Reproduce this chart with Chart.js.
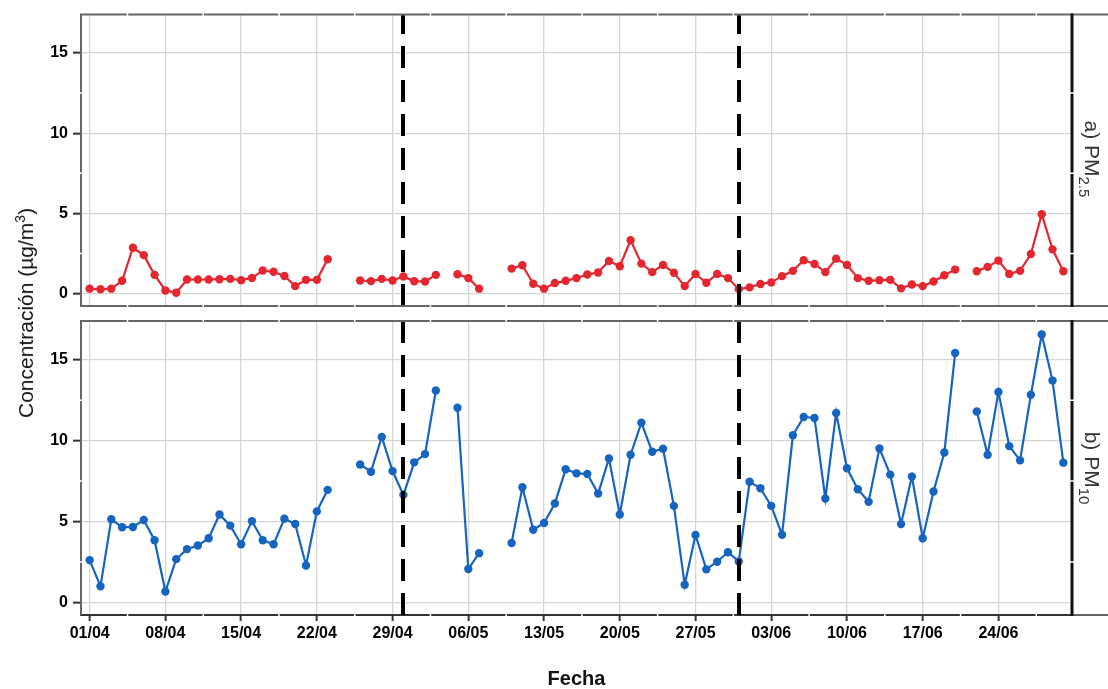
<!DOCTYPE html>
<html>
<head>
<meta charset="utf-8">
<script src="https://cdn.jsdelivr.net/npm/chart.js@4.4.1/dist/chart.umd.min.js"></script>
<style>
  html, body { margin: 0; padding: 0; background: #fff; }
  #wrap { position: relative; width: 1108px; height: 689px; font-family: "Liberation Sans", Arial, sans-serif; }
  #wrap canvas { position: absolute; left: 0; top: 0; }
  .ytitle { position: absolute; left: 25px; top: 313px; transform: translate(-50%, -50%) rotate(-90deg); font-size: 21px; color: #111; white-space: nowrap; z-index: 2; }
  .ytitle sup { font-size: 14px; }
  .strip { position: absolute; left: 1090px; transform: translate(-50%, -50%) rotate(90deg); font-size: 21px; color: #333; white-space: nowrap; z-index: 2; }
  .strip sub { font-size: 15px; }
</style>
</head>
<body>
<div id="wrap">
  <canvas id="pm25" width="1108" height="689"></canvas>
  <canvas id="pm10" width="1108" height="689"></canvas>
  <div class="ytitle">Concentración (µg/m<sup>3</sup>)</div>
  <div class="strip" style="top:159px">a) PM<sub>2.5</sub></div>
  <div class="strip" style="top:468px">b) PM<sub>10</sub></div>
</div>
<script>
// daily series, index 0 = 01/04, index 90 = 30/06 (null = no measurement)
const pm25 = [
  0.31, 0.27, 0.31, 0.80, 2.86, 2.40, 1.17, 0.20, 0.06, 0.88,
  0.88, 0.88, 0.90, 0.92, 0.84, 0.98, 1.44, 1.36, 1.10, 0.47,
  0.86, 0.86, 2.14, null, null, 0.82, 0.78, 0.92, 0.82, 1.07,
  0.77, 0.76, 1.17, null, 1.21, 0.97, 0.31, null, null, 1.56,
  1.77, 0.62, 0.31, 0.66, 0.80, 0.97, 1.19, 1.32, 2.04, 1.71,
  3.33, 1.87, 1.34, 1.79, 1.30, 0.47, 1.23, 0.68, 1.23, 0.97,
  0.28, 0.39, 0.60, 0.70, 1.09, 1.42, 2.08, 1.85, 1.34, 2.18,
  1.79, 0.97, 0.80, 0.84, 0.86, 0.33, 0.57, 0.47, 0.76, 1.15,
  1.50, null, 1.40, 1.67, 2.06, 1.23, 1.42, 2.47, 4.95, 2.76,
  1.40
];
const pm10 = [
  2.62, 1.00, 5.14, 4.65, 4.67, 5.10, 3.85, 0.68, 2.68, 3.30,
  3.52, 3.97, 5.44, 4.75, 3.60, 5.03, 3.85, 3.60, 5.18, 4.85,
  2.29, 5.63, 6.96, null, null, 8.53, 8.08, 10.23, 8.12, 6.65,
  8.66, 9.17, 13.10, null, 12.03, 2.07, 3.05, null, null, 3.68,
  7.12, 4.50, 4.91, 6.12, 8.23, 7.98, 7.94, 6.73, 8.90, 5.44,
  9.13, 11.11, 9.31, 9.50, 5.97, 1.10, 4.17, 2.05, 2.52, 3.11,
  2.54, 7.46, 7.06, 5.97, 4.19, 10.33, 11.46, 11.40, 6.43, 11.71,
  8.29, 7.00, 6.22, 9.52, 7.90, 4.85, 7.78, 3.97, 6.86, 9.27,
  15.41, null, 11.80, 9.13, 13.01, 9.66, 8.78, 12.83, 16.56, 13.71,
  8.64
];
const tickDays = [0, 7, 14, 21, 28, 35, 42, 49, 56, 63, 70, 77, 84];
const tickLabels = ["01/04", "08/04", "15/04", "22/04", "29/04", "06/05", "13/05",
                    "20/05", "27/05", "03/06", "10/06", "17/06", "24/06"];
const yTicks = [0, 5, 10, 15];
const eventDays = [29, 60];
const xMinor = [3.5, 10.5, 17.5, 24.5, 31.5, 38.5, 45.5, 52.5, 59.5, 66.5, 73.5, 80.5, 87.5];
const yMinor = [2.5, 7.5, 12.5];

const xMin = -0.8, xMax = 90.8;
const yMin = -0.77, yMax = 17.39;

Chart.defaults.font.family = '"Liberation Sans", Arial, sans-serif';

// panel border, strip box edges, white minor breaks and the dashed event lines
const panelFrame = {
  id: 'panelFrame',
  afterDatasetsDraw(chart) {
    const { ctx, chartArea: a, scales: { x } } = chart;
    ctx.save();
    ctx.setLineDash([22, 12]);
    ctx.lineWidth = 4;
    ctx.strokeStyle = '#000';
    eventDays.forEach(d => {
      const px = Math.round(x.getPixelForValue(d));
      ctx.beginPath();
      ctx.moveTo(px, a.bottom);
      ctx.lineTo(px, a.top);
      ctx.stroke();
    });
    ctx.restore();
  },
  afterDraw(chart, args, opts) {
    const { ctx, chartArea: a, scales: { x, y } } = chart;
    const edge = chart.width;
    ctx.save();
    ctx.lineWidth = 2;
    ctx.strokeStyle = '#666';
    ctx.beginPath();
    ctx.moveTo(a.left - 1, a.top);
    ctx.lineTo(edge, a.top);
    ctx.moveTo(opts.withAxis ? a.right : a.left - 1, a.bottom);
    ctx.lineTo(edge, a.bottom);
    ctx.stroke();

    ctx.lineWidth = 3;
    ctx.strokeStyle = '#111';
    ctx.beginPath();
    ctx.moveTo(a.right, a.top - 1);
    ctx.lineTo(a.right, a.bottom + 1);
    ctx.stroke();

    ctx.strokeStyle = '#fff';
    ctx.lineWidth = 1.5;
    ctx.beginPath();
    xMinor.forEach(d => {
      const px = x.getPixelForValue(d);
      ctx.moveTo(px, a.top - 2); ctx.lineTo(px, a.top + 2);
      ctx.moveTo(px, a.bottom - 2); ctx.lineTo(px, a.bottom + 2);
    });
    yMinor.forEach(v => {
      const py = y.getPixelForValue(v);
      ctx.moveTo(a.left - 2, py); ctx.lineTo(a.left + 2, py);
      ctx.moveTo(a.right - 3, py); ctx.lineTo(a.right + 3, py);
    });
    ctx.stroke();
    ctx.restore();
  }
};

function makePanel(id, values, color, withAxis) {
  const tickFont = { size: 16, weight: 'bold' };
  return new Chart(document.getElementById(id), {
    type: 'line',
    data: {
      datasets: [{
        data: values.map((v, i) => ({ x: i, y: v })),
        borderColor: color,
        backgroundColor: color,
        borderWidth: 2.2,
        pointRadius: 4.2,
        pointBorderWidth: 0,
        pointBackgroundColor: color,
        tension: 0,
        spanGaps: false
      }]
    },
    options: {
      responsive: false,
      animation: false,
      events: [],
      layout: {
        padding: withAxis
          ? { left: 0, top: 321, right: 36, bottom: 0 }
          : { left: 0, top: 12, right: 36, bottom: 383 }
      },
      plugins: {
        legend: { display: false },
        tooltip: { enabled: false },
        panelFrame: { withAxis }
      },
      scales: {
        x: {
          type: 'linear',
          min: xMin,
          max: xMax,
          afterBuildTicks: s => { s.ticks = tickDays.map(v => ({ value: v })); },
          afterFit: s => { s.height = withAxis ? 74 : 0; },
          grid: {
            color: '#d6d6d6',
            lineWidth: 1.3,
            drawTicks: withAxis,
            tickLength: 6,
            tickColor: '#333',
            tickWidth: 2
          },
          border: { display: withAxis, color: '#333', width: 2 },
          ticks: {
            display: withAxis,
            autoSkip: false,
            maxRotation: 0,
            padding: 3,
            color: '#000',
            font: tickFont,
            callback: v => tickLabels[tickDays.indexOf(v)]
          },
          title: {
            display: withAxis,
            text: 'Fecha',
            color: '#111',
            font: { size: 20, weight: 'bold', lineHeight: 1 },
            padding: 0
          }
        },
        y: {
          min: yMin,
          max: yMax,
          afterBuildTicks: s => { s.ticks = yTicks.map(v => ({ value: v })); },
          afterFit: s => { s.width = 81; },
          grid: {
            color: '#d6d6d6',
            lineWidth: 1.3,
            tickLength: 8,
            tickColor: '#333',
            tickWidth: 2
          },
          border: { display: true, color: '#666', width: 2 },
          ticks: { padding: 5, color: '#000', font: tickFont }
        }
      }
    },
    plugins: [panelFrame]
  });
}

makePanel('pm25', pm25, '#e3262f', false);
makePanel('pm10', pm10, '#1565c0', true);
</script>
</body>
</html>
